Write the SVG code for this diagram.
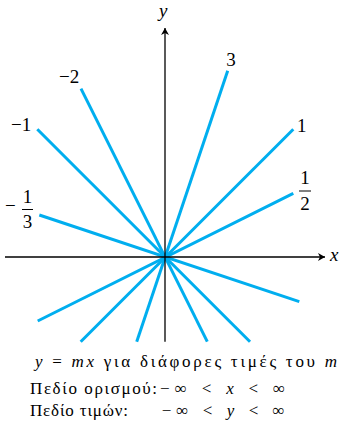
<svg xmlns="http://www.w3.org/2000/svg" width="341" height="428" viewBox="0 0 341 428">
<defs>
<marker id="ar" markerWidth="10" markerHeight="10" viewBox="0 0 10 10" refX="9" refY="5" orient="auto" markerUnits="userSpaceOnUse">
<path d="M2,1 L9,5 L2,9 L4,5 Z" fill="#000"/>
</marker>
</defs>
<rect width="341" height="428" fill="#fff"/>
<g id="lines" stroke="#00AEEF" stroke-width="3" fill="none">
<line x1="227.7" y1="70.7" x2="136.7" y2="341.7"/>
<line x1="293.3" y1="129.3" x2="80.7" y2="341.7"/>
<line x1="293.3" y1="193.3" x2="37.7" y2="321"/>
<line x1="39.3" y1="215" x2="299.3" y2="301.7"/>
<line x1="37.3" y1="129.3" x2="250" y2="341.7"/>
<line x1="81" y1="88.7" x2="207.3" y2="341.7"/>
</g>
<g id="axes">
<line stroke="#000" stroke-width="1.3" x1="5" y1="257" x2="325" y2="257" marker-end="url(#ar)"/>
<line stroke="#000" stroke-width="1.3" x1="165" y1="341.7" x2="165" y2="28" marker-end="url(#ar)"/>
<text font-family="Times New Roman, Liberation Serif, serif" font-size="19" font-style="italic" x="330" y="261">x</text>
<text font-family="Times New Roman, Liberation Serif, serif" font-size="19" font-style="italic" x="159" y="17">y</text>
</g>
<g id="labels">
<text font-family="Times New Roman, Liberation Serif, serif" font-size="19" x="231" y="66" text-anchor="middle">3</text>
<text font-family="Times New Roman, Liberation Serif, serif" font-size="19" x="59" y="83">−2</text>
<text font-family="Times New Roman, Liberation Serif, serif" font-size="19" x="11" y="131">−1</text>
<text font-family="Times New Roman, Liberation Serif, serif" font-size="19" x="297" y="132">1</text>
<text font-family="Times New Roman, Liberation Serif, serif" font-size="19" x="305" y="184" text-anchor="middle">1</text>
<line x1="299" y1="191" x2="311" y2="191" stroke="#000" stroke-width="1"/>
<text font-family="Times New Roman, Liberation Serif, serif" font-size="19" x="305" y="210" text-anchor="middle">2</text>
<text font-family="Times New Roman, Liberation Serif, serif" font-size="19" x="5" y="212">−</text>
<text font-family="Times New Roman, Liberation Serif, serif" font-size="19" x="27.5" y="203" text-anchor="middle">1</text>
<line x1="22" y1="209.5" x2="33" y2="209.5" stroke="#000" stroke-width="1"/>
<text font-family="Times New Roman, Liberation Serif, serif" font-size="19" x="27.5" y="228" text-anchor="middle">3</text>
</g>
<g id="caption">
<text font-family="Times New Roman, Liberation Serif, serif" font-size="17" x="35" y="367" textLength="302" lengthAdjust="spacing"><tspan font-style="italic">y</tspan> = <tspan font-style="italic">mx</tspan> για διάφορες τιμές του <tspan font-style="italic">m</tspan></text>
<text font-family="Times New Roman, Liberation Serif, serif" font-size="17" x="30" y="394" textLength="127" lengthAdjust="spacing">Πεδίο ορισμού:</text>
<text font-family="Times New Roman, Liberation Serif, serif" font-size="17" x="160" y="394" textLength="125" lengthAdjust="spacing">−∞ &lt; <tspan font-style="italic">x</tspan> &lt; ∞</text>
<text font-family="Times New Roman, Liberation Serif, serif" font-size="17" x="30" y="416" textLength="98" lengthAdjust="spacing">Πεδίο τιμών:</text>
<text font-family="Times New Roman, Liberation Serif, serif" font-size="17" x="161.7" y="416" textLength="123" lengthAdjust="spacing">−∞ &lt; <tspan font-style="italic">y</tspan> &lt; ∞</text>
</g>
</svg>
